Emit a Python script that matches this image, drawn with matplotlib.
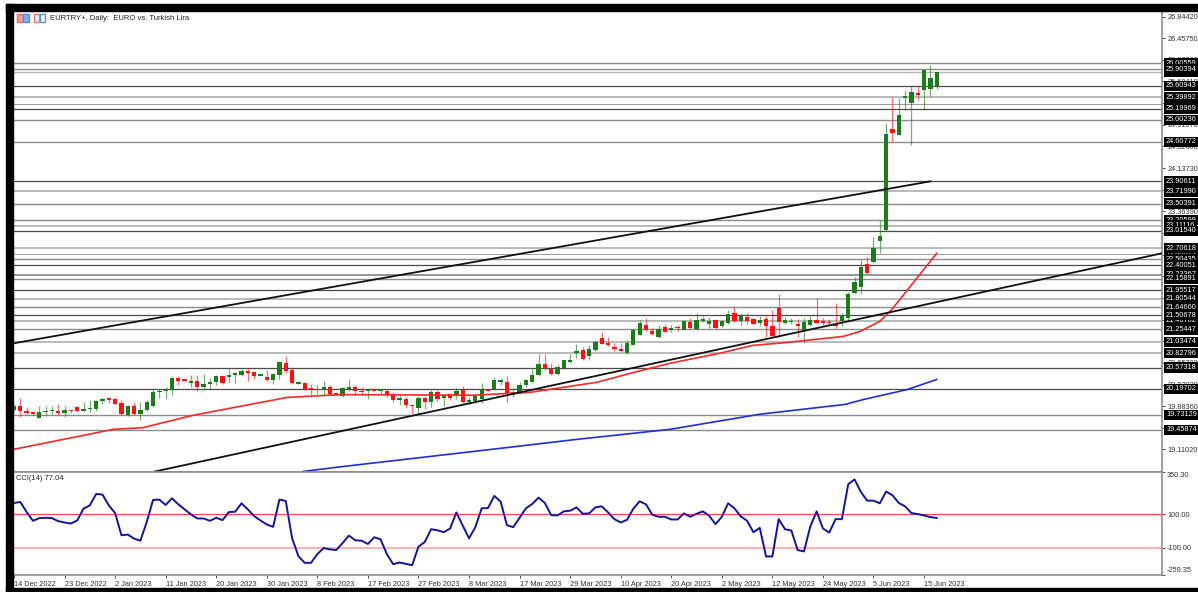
import matplotlib
matplotlib.use('Agg')
import matplotlib.pyplot as plt
from matplotlib.patches import Rectangle

plt.rcParams['font.family'] = ['Liberation Sans', 'DejaVu Sans']

opens = [19.807,19.885,19.80,19.766,19.676,19.772,19.79,19.80,19.76,19.813,19.873,19.795,19.825,19.837,19.968,20.004,20.004,19.938,19.718,19.879,
         19.736,19.807,19.879,20.129,20.153,20.165,20.385,20.35,20.29,20.332,20.225,20.278,20.308,20.415,20.397,20.439,20.433,20.505,20.487,20.421,
         20.397,20.344,20.445,20.654,20.529,20.284,20.296,20.189,20.189,20.165,20.225,20.105,20.064,20.189,20.219,20.159,20.153,20.171,20.153,20.159,
         20.106,19.998,20.016,19.903,19.855,20.034,19.957,20.141,20.022,20.094,20.088,20.165,19.951,19.968,20.01,20.177,20.189,20.314,20.314,20.088,
         20.13,20.261,20.314,20.445,20.642,20.547,20.463,20.565,20.666,20.833,20.88,20.785,20.88,21.095,20.999,20.94,20.91,20.832,20.982,21.16,
         21.333,21.226,21.119,21.297,21.244,21.291,21.25,21.381,21.262,21.405,21.357,21.417,21.315,21.375,21.548,21.405,21.47,21.434,21.375,21.434,
         21.309,21.643,21.369,21.381,21.357,21.25,21.339,21.417,21.381,21.387,21.345,21.405,21.464,21.905,22.012,22.418,22.453,22.835,23.026,24.837,
         24.73,25.392,25.302,25.469,25.523,25.553,25.60]
highs = [19.897,20.034,19.867,19.778,19.885,19.885,19.885,19.927,19.885,19.837,19.891,19.962,19.986,19.998,20.04,20.016,20.046,19.998,19.897,19.962,
         19.962,19.986,20.183,20.183,20.225,20.427,20.415,20.355,20.433,20.433,20.463,20.391,20.433,20.427,20.552,20.493,20.552,20.564,20.499,20.44,
         20.534,20.481,20.684,20.773,20.582,20.332,20.314,20.272,20.254,20.332,20.254,20.11,20.225,20.374,20.255,20.225,20.195,20.18,20.195,20.177,
         20.135,20.076,20.046,19.903,20.058,20.07,20.177,20.165,20.106,20.106,20.213,20.237,20.046,20.076,20.296,20.183,20.404,20.392,20.427,20.213,
         20.314,20.374,20.553,20.809,20.821,20.654,20.624,20.714,20.821,21.0,20.94,20.97,21.059,21.208,21.119,21.012,21.012,21.071,21.268,21.417,
         21.464,21.286,21.327,21.345,21.327,21.327,21.429,21.464,21.548,21.488,21.476,21.446,21.429,21.607,21.679,21.548,21.548,21.464,21.5,21.5,
         21.595,21.881,21.476,21.464,21.446,21.452,21.5,21.81,21.464,21.446,21.726,21.548,21.917,22.191,22.489,22.549,22.906,23.204,24.945,25.398,
         25.392,25.529,25.612,25.612,25.898,25.97,25.851]
lows = [19.795,19.688,19.736,19.718,19.664,19.70,19.748,19.718,19.688,19.76,19.772,19.79,19.778,19.795,19.927,19.944,19.915,19.73,19.70,19.718,
        19.64,19.795,19.867,20.022,20.016,20.082,20.254,20.33,20.225,20.153,20.165,20.165,20.254,20.284,20.314,20.296,20.415,20.332,20.374,20.415,
        20.332,20.272,20.374,20.475,20.284,20.272,20.165,20.076,20.105,20.088,20.076,20.076,20.052,20.147,20.106,20.076,20.01,20.15,20.094,20.046,
        19.957,19.897,19.855,19.736,19.748,19.837,19.867,19.974,19.879,19.998,20.016,19.939,19.927,19.939,19.939,20.153,20.177,20.267,19.957,20.046,
        20.094,20.225,20.296,20.416,20.523,20.433,20.445,20.547,20.654,20.749,20.702,20.702,20.862,20.988,20.952,20.868,20.851,20.821,20.97,21.148,
        21.226,21.148,21.107,21.202,21.202,21.226,21.238,21.262,21.238,21.381,21.274,21.268,21.297,21.357,21.387,21.339,21.345,21.327,21.321,21.119,
        21.119,21.119,21.345,21.357,21.119,21.011,21.309,21.345,21.333,21.333,21.286,21.309,21.387,21.881,21.881,22.251,22.441,22.62,23.014,24.605,
        24.724,25.183,24.557,25.362,25.183,25.398,25.553]
closes = [19.885,19.79,19.76,19.748,19.772,19.80,19.807,19.76,19.813,19.79,19.79,19.837,19.849,19.974,20.01,19.998,19.927,19.736,19.885,19.748,
          19.813,19.962,20.135,20.159,20.183,20.391,20.338,20.338,20.332,20.225,20.284,20.32,20.421,20.296,20.439,20.457,20.505,20.481,20.421,20.433,
          20.356,20.457,20.672,20.511,20.296,20.314,20.189,20.177,20.165,20.219,20.094,20.082,20.213,20.219,20.153,20.13,20.171,20.159,20.171,20.088,
          19.998,20.016,19.897,19.879,20.034,19.962,20.135,20.016,20.082,20.022,20.147,19.962,19.986,20.058,20.177,20.159,20.35,20.332,20.106,20.13,
          20.255,20.344,20.433,20.642,20.571,20.451,20.582,20.702,20.702,20.851,20.725,20.898,21.023,20.999,20.982,20.904,20.869,21.011,21.238,21.375,
          21.25,21.166,21.262,21.214,21.268,21.274,21.405,21.28,21.417,21.417,21.399,21.28,21.399,21.524,21.405,21.5,21.411,21.345,21.417,21.309,
          21.142,21.381,21.417,21.399,21.315,21.381,21.429,21.369,21.369,21.363,21.309,21.5,21.893,22.096,22.37,22.263,22.704,22.918,24.754,24.766,
          25.082,25.404,25.493,25.451,25.898,25.755,25.845]

cci = [166,172,112,60,76,78,76,58,50,44,62,132,152,220,216,152,106,-26,-22,-46,
       -58,52,184,186,154,194,158,128,98,74,74,60,78,64,112,114,164,128,88,62,
       38,24,186,178,-42,-150,-190,-190,-138,-102,-110,-114,-72,-28,-56,-58,-78,-38,-50,-138,
       -198,-188,-196,-204,-94,-66,10,4,-8,14,110,32,-44,22,134,136,208,174,34,22,
       78,134,160,198,166,94,92,116,120,140,102,104,140,146,110,70,50,66,132,176,
       158,96,84,84,68,68,104,84,102,116,90,40,84,164,134,86,60,-8,18,-152,
       -152,70,10,2,-114,-122,26,116,14,-10,70,70,278,306,232,180,180,164,234,212,
       166,146,106,100,92,82,77.04]

ma_red_idx = [-0.16,15.7,20.4,28.3,43.2,51.6,72.6,81.6,86.9,92.2,97.5,103.8,111.7,116.9,120.7,125.5,131.2,133.9,137,138.9,146]
ma_red = [19.11,19.47,19.50,19.72,20.04,20.09,20.08,20.13,20.22,20.31,20.47,20.65,20.83,20.97,21.005,21.06,21.13,21.22,21.40,21.61,22.615]
ma_blue_idx = [45.7,51.6,76.9,89,103.8,118,131.5,134.3,141.3,146]
ma_blue = [18.717,18.80,19.13,19.29,19.47,19.74,19.915,20.0,20.18,20.36]

trend_upper_idx = [-0.16,145]
trend_upper = [21.005,23.90]
trend_lower_idx = [22.3,181.65]
trend_lower = [18.717,22.615]

dates = ['14 Dec 2022','23 Dec 2022','2 Jan 2023','11 Jan 2023','20 Jan 2023','30 Jan 2023','8 Feb 2023','17 Feb 2023',
         '27 Feb 2023','8 Mar 2023','17 Mar 2023','29 Mar 2023','10 Apr 2023','20 Apr 2023','2 May 2023','12 May 2023',
         '24 May 2023','5 Jun 2023','15 Jun 2023']
price_ticks = [26.8442,26.4575,26.0708,25.6841,25.2974,24.9107,24.524,24.1373,23.7506,23.3639,22.9772,22.5905,22.2038,
               21.8171,21.4304,21.0437,20.657,20.2703,19.8836,19.4969,19.1102]

# level, line colour, line width
dark, mid, light = '#4a4a4a', '#8c8c8c', '#b4b4b4'
levels = [(26.00559,mid,1.0),(25.90394,mid,1.0),(25.86,light,1.0),(25.60943,dark,0.9),(25.39892,light,1.3),(25.27761,mid,0.6),
          (25.19969,dark,0.9),(25.00236,mid,1.0),(24.60772,mid,1.0),(23.90611,dark,0.9),(23.7199,light,1.3),(23.50391,mid,1.0),
          (23.20599,mid,1.0),(23.11116,light,1.3),(23.0154,dark,0.9),(22.70618,light,1.3),(22.60012,mid,0.6),(22.50435,mid,1.0),
          (22.40051,dark,0.9),(22.23367,mid,1.3),(22.15891,mid,1.0),(21.95517,dark,0.9),(21.80544,light,1.3),(21.6466,mid,1.0),
          (21.50678,dark,0.9),(21.40782,light,1.3),(21.25447,mid,1.0),(21.03474,light,1.3),(20.82796,light,1.3),(20.57318,dark,0.9),
          (20.19702,dark,0.9),(19.73129,mid,1.0),(19.45874,mid,1.0)]
hidden_labels = [25.86, 25.27761, 22.60012, 21.40782]

W, H = 1198, 592
GREEN, RED = '#1c7c1c', '#ff1010'
GRAY = '#8f8f8f'
FS = 5.3

fig = plt.figure(figsize=(W / 100, H / 100), dpi=100)
# black window frame
fig.patches.append(Rectangle((6 / W, 0), 6.5 / W, 1 - 4 / H, transform=fig.transFigure, color='black'))
fig.patches.append(Rectangle((6 / W, 1 - 10.5 / H), 1 - 6 / W, 6.5 / H, transform=fig.transFigure, color='black'))
fig.patches.append(Rectangle((6 / W, 0), 1 - 6 / W, 4 / H, transform=fig.transFigure, color='black'))

ax = fig.add_axes([13 / W, 1 - 471.5 / H, 1149 / W, 460.5 / H])
ax2 = fig.add_axes([13 / W, 1 - 574.5 / H, 1149 / W, 102.5 / H])

for a in (ax, ax2):
    a.set_xlim(-0.158, 181.65)
    for s in a.spines.values():
        s.set_color(GRAY)
        s.set_linewidth(1.2)
    a.tick_params(colors='#333333', labelsize=FS, length=2.5, width=0.6, pad=1.2)
    a.yaxis.tick_right()

idx = list(range(len(closes)))
ax.set_ylim(18.717, 26.943)
ax.set_xticks([])
ax.set_yticks(price_ticks)
ax.set_yticklabels(['%.5f' % t for t in price_ticks])

for lvl, c, lw in levels:
    ax.axhline(lvl, color=c, lw=lw, zorder=1)

colors = [GREEN if c >= o else RED for o, c in zip(opens, closes)]
ax.vlines(idx, lows, highs, colors=colors, lw=0.9, alpha=0.6, zorder=2)
ax.bar(idx, [max(abs(c - o), 0.03) for o, c in zip(opens, closes)], bottom=[min(o, c) for o, c in zip(opens, closes)],
       width=0.68, color=colors, lw=0, zorder=2.2)

ax.plot(ma_red_idx, ma_red, color='#f52a2a', lw=1.2, zorder=3)
ax.plot(ma_blue_idx, ma_blue, color='#1f2fd8', lw=1.2, zorder=3)
ax.plot(trend_upper_idx, trend_upper, color='#111111', lw=1.3, zorder=3.2)
ax.plot(trend_lower_idx, trend_lower, color='#111111', lw=1.3, zorder=3.2)

# black price labels, the half hidden ones go underneath
blend = ax.get_yaxis_transform()
ordered = [l for l in levels if l[0] in hidden_labels] + [l for l in levels if l[0] not in hidden_labels]
for lvl, c, lw in ordered:
    ax.text(1.0035, lvl, '%.5f' % lvl, transform=blend, color='white', fontsize=FS, va='center', ha='left', clip_on=False,
            bbox=dict(boxstyle='square,pad=0.22', fc='black', ec='none'), zorder=5)

ax.text(50 / W, 1 - 18 / H, 'EURTRY+, Daily:  EURO vs. Turkish Lira', transform=fig.transFigure, fontsize=5.5,
        color='#222222', va='center', ha='left')

# the two small window icons
for x0, w, col, fill in [(17, 6, '#ef6f6f', '#f49a9a'), (23, 6, '#4f8fdf', '#7fb0ea'), (34, 5, '#ef6f6f', 'white'), (40, 5, '#4f8fdf', 'white')]:
    fig.patches.append(Rectangle((x0 / W, 1 - 22 / H), w / W, 8 / H, transform=fig.transFigure, fc=fill, ec=col, lw=1.0))

ax2.set_ylim(-259.35, 350.3)
ax2.plot(idx, cci, color='#14149a', lw=1.4, zorder=3)
ax2.axhline(100, color='#ff4a4a', lw=0.9, zorder=1)
ax2.axhline(-100, color='#ffb4b4', lw=1.5, zorder=1)
ax2.set_yticks([-259.35, -100, 100, 350.3])
ax2.set_yticklabels(['-259.35', '-100.00', '100.00', '350.30'])
ax2.get_yticklabels()[0].set_va('bottom')
ax2.get_yticklabels()[3].set_va('top')
ax2.set_xticks(idx[::8])
ax2.set_xticklabels(dates, ha='left')
ax2.tick_params(axis='x', pad=2)
ax2.text(16 / W, 1 - 478 / H, 'CCI(14) 77.04', transform=fig.transFigure, fontsize=5.4, color='#222222', va='center')

fig.savefig('out.png', dpi=100)
